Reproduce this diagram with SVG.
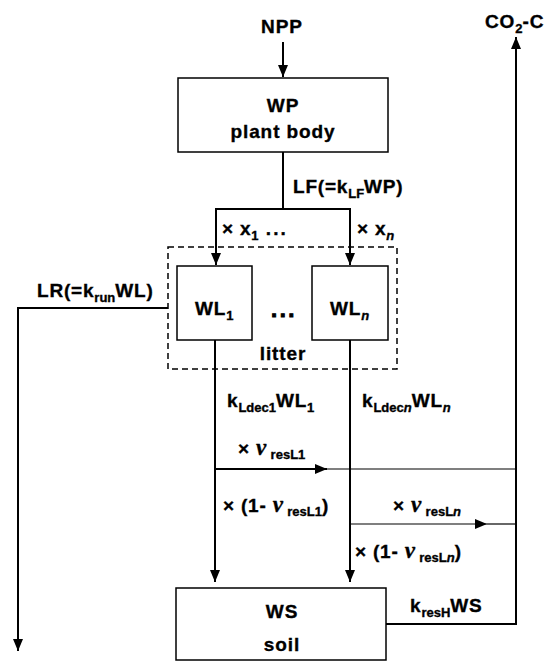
<svg xmlns="http://www.w3.org/2000/svg" width="547" height="662" viewBox="0 0 547 662">
<style>
  text { font-family: "Liberation Sans", Arial, sans-serif; font-weight: bold; fill: #000; stroke: #000; stroke-width: 0.35; }
  .t { font-size: 19px; letter-spacing: 0.9px; }
  .l { font-size: 19px; letter-spacing: 0.8px; }
  .c { text-anchor: middle; }
  .sub { font-size: 13px; letter-spacing: 0; }
  .dots { font-size: 22px; letter-spacing: 2.5px; stroke-width: 1; }
  .nu { font-family: "Liberation Serif", "Times New Roman", serif; font-style: italic; font-size: 23px; }
  .it { font-style: italic; }
  .box { fill: #fff; stroke: #000; stroke-width: 1.5; }
  .dash { fill: none; stroke: #000; stroke-width: 1.5; stroke-dasharray: 6 4; }
  .ln { fill: none; stroke: #000; stroke-width: 2; }
  .thin { fill: none; stroke: #000; stroke-width: 1.2; }
</style>
<defs>
  <marker id="ah" markerUnits="userSpaceOnUse" markerWidth="12" markerHeight="10" viewBox="0 0 12 10" refX="12" refY="5" orient="auto">
    <path d="M0,0 L12,5 L0,10 Z" fill="#000"/>
  </marker>
</defs>
<rect width="547" height="662" fill="#fff"/>

<g id="connectors">
  <path class="ln" d="M283,42 V77" marker-end="url(#ah)"/>
  <path class="ln" d="M283,152 V209 M216,209 H350"/>
  <path class="ln" d="M216,208 V265" marker-end="url(#ah)"/>
  <path class="ln" d="M350,208 V265" marker-end="url(#ah)"/>
  <path class="ln" d="M168,308 H18 V651" marker-end="url(#ah)"/>
  <path class="ln" d="M215,340 V582" marker-end="url(#ah)"/>
  <path class="ln" d="M350,340 V582" marker-end="url(#ah)"/>
  <path class="ln" d="M215,469 H327" marker-end="url(#ah)"/>
  <path class="thin" d="M327,469 H516"/>
  <path class="thin" d="M350,524 H487" marker-end="url(#ah)"/>
  <path class="thin" d="M487,524 H516"/>
  <path class="ln" d="M386,624 H516 V37" marker-end="url(#ah)"/>
</g>

<g id="node-WP">
  <rect class="box" x="178" y="78" width="210" height="74"/>
  <text class="t c" x="283" y="112">WP</text>
  <text class="t c" x="283" y="138">plant body</text>
</g>

<g id="node-litter">
  <rect class="dash" x="168" y="247" width="229" height="122"/>
  <text class="t c" x="283" y="360">litter</text>
  <text class="dots c" x="284" y="317">...</text>
</g>

<g id="node-WL1">
  <rect class="box" x="177" y="266" width="75" height="74"/>
  <text class="t" x="195" y="315">WL<tspan class="sub" dy="5">1</tspan></text>
</g>

<g id="node-WLn">
  <rect class="box" x="312" y="266" width="76" height="74"/>
  <text class="t" x="330" y="315">WL<tspan class="sub it" dy="5">n</tspan></text>
</g>

<g id="node-WS">
  <rect class="box" x="176" y="588" width="210" height="72"/>
  <text class="t c" x="282" y="618">WS</text>
  <text class="t c" x="282" y="651">soil</text>
</g>

<g id="labels">
  <text class="t c" x="282" y="33">NPP</text>
  <text class="t" x="485" y="28">CO<tspan class="sub" dy="5">2</tspan><tspan dy="-5">-C</tspan></text>
  <text class="l" x="293" y="193">LF(=k<tspan class="sub" dy="5">LF</tspan><tspan dy="-5">WP)</tspan></text>
  <text class="l" x="222" y="235">× x<tspan class="sub" dy="5">1</tspan><tspan dy="-5" style="letter-spacing:2px"> ...</tspan></text>
  <text class="l" x="357" y="235">× x<tspan class="sub it" dy="5">n</tspan></text>
  <text class="l" x="37" y="297">LR(=k<tspan class="sub" dy="5">run</tspan><tspan dy="-5">WL)</tspan></text>
  <text class="l" x="227" y="407">k<tspan class="sub" dy="5">Ldec1</tspan><tspan dy="-5">WL</tspan><tspan class="sub" dy="5">1</tspan></text>
  <text class="l" x="362" y="407">k<tspan class="sub" dy="5">Ldec</tspan><tspan class="sub it">n</tspan><tspan dy="-5">WL</tspan><tspan class="sub it" dy="5">n</tspan></text>
  <text class="l" x="238" y="455">× <tspan class="nu">ν</tspan><tspan class="sub" dy="4"> resL1</tspan></text>
  <text class="l" x="223" y="512">× (1- <tspan class="nu">ν</tspan><tspan class="sub" dy="4"> resL1</tspan><tspan dy="-4">)</tspan></text>
  <text class="l" x="393" y="512">× <tspan class="nu">ν</tspan><tspan class="sub" dy="4"> resL</tspan><tspan class="sub it">n</tspan></text>
  <text class="l" x="355" y="558">× (1- <tspan class="nu">ν</tspan><tspan class="sub" dy="4"> resL</tspan><tspan class="sub it">n</tspan><tspan dy="-4">)</tspan></text>
  <text class="l" x="410" y="612">k<tspan class="sub" dy="5">resH</tspan><tspan dy="-5">WS</tspan></text>
</g>
</svg>
